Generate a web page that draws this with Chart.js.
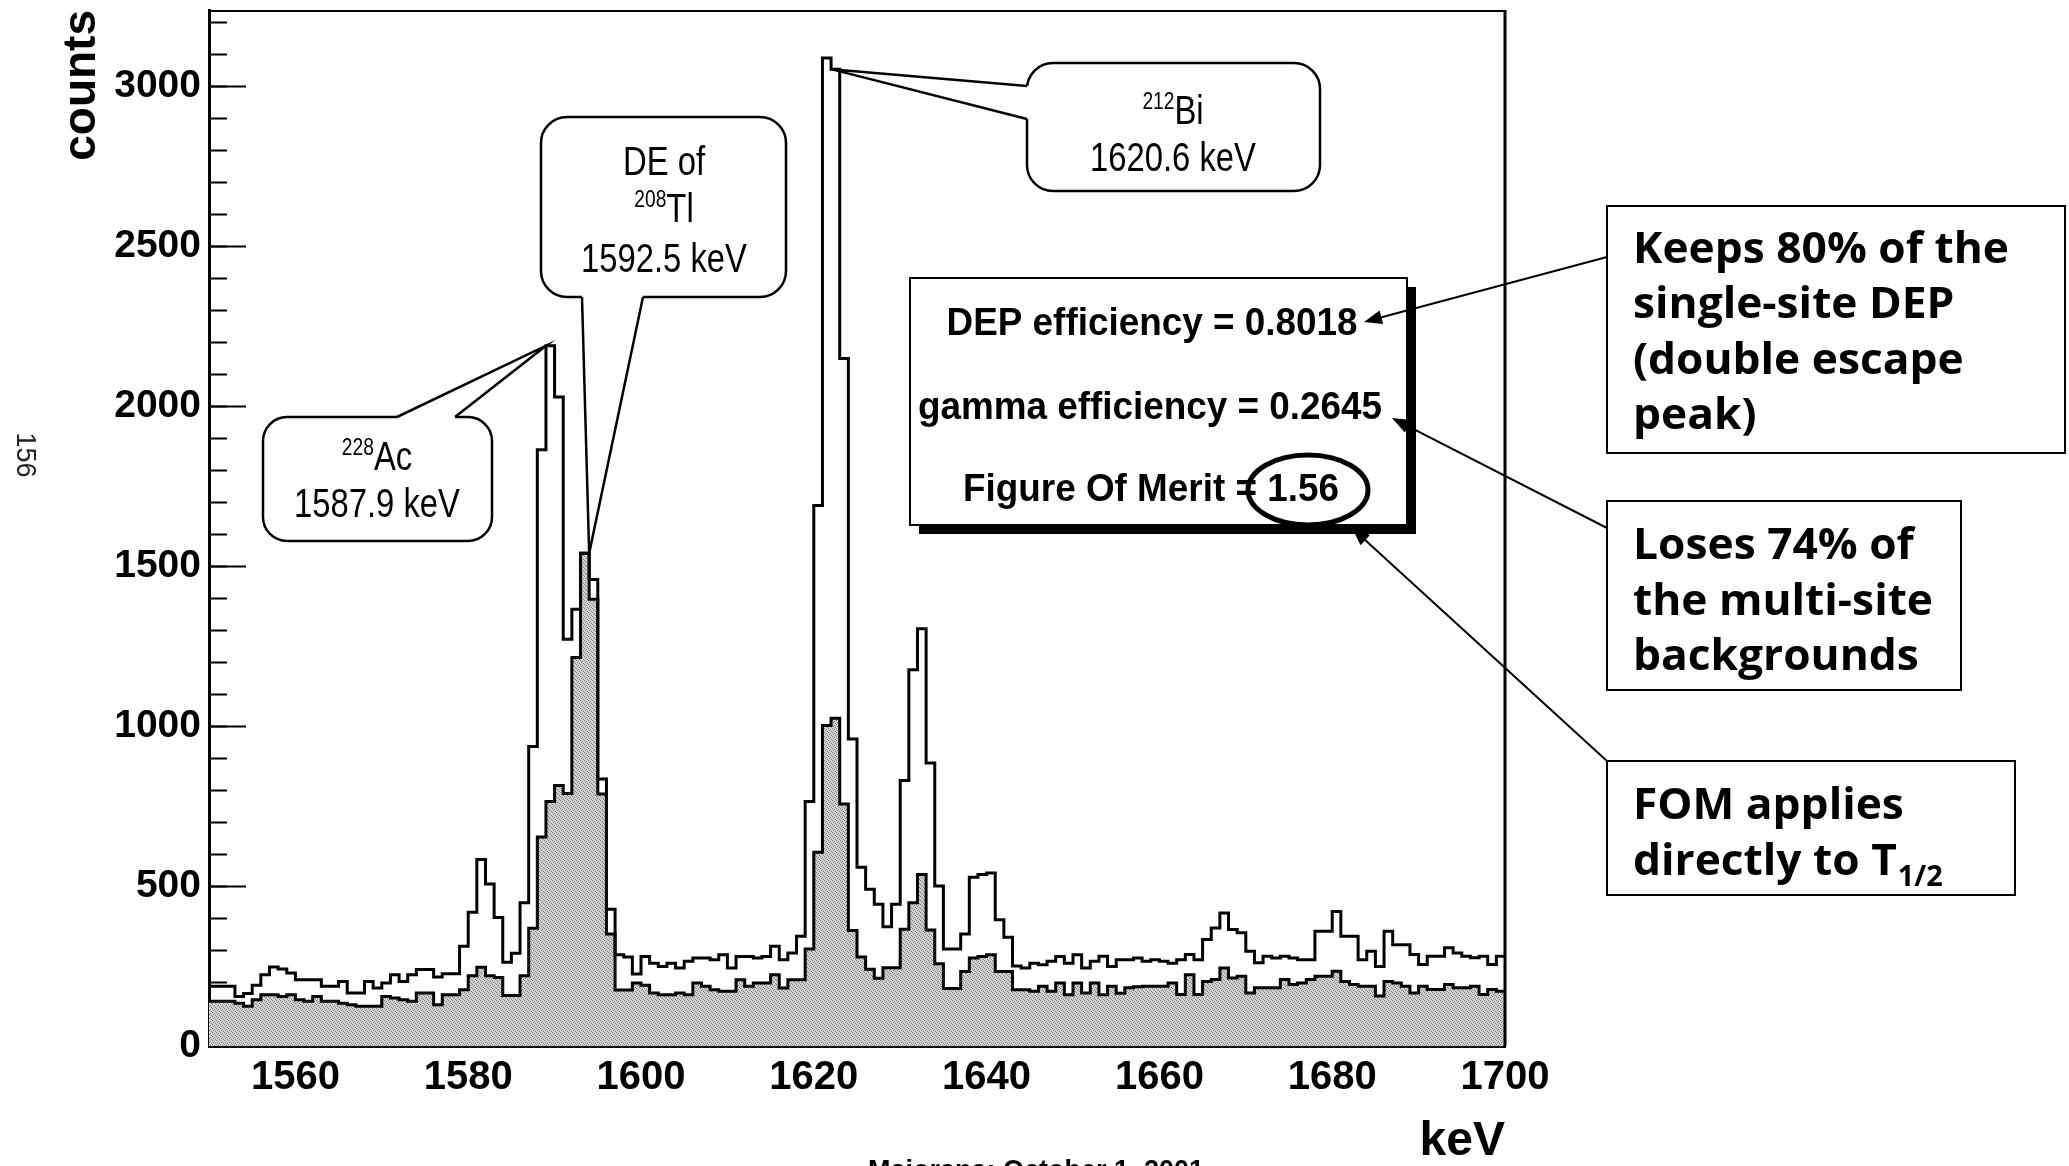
<!DOCTYPE html>
<html>
<head>
<meta charset="utf-8">
<script src="https://cdn.jsdelivr.net/npm/chart.js@4.4.1/dist/chart.umd.min.js"></script>
<style>
    html, body { margin: 0; padding: 0; background: #fff; overflow: hidden; }
    #grafico { display: block; }
</style>
</head>
<body>
<canvas id="grafico" width="2069" height="1166"></canvas>
<script>
// --- DADOS DO HISTOGRAMA (1550-1700 keV, bins de 1 keV) ---
const histMin = 1550;
const histMax = 1700;
const binWidth = 1;

// espectro completo (linha preta)
const countsTotal = [
    187, 187, 187, 155, 164, 190, 223, 247, 241, 228,
    207, 207, 207, 187, 187, 202, 166, 166, 202, 181,
    197, 223, 202, 223, 239, 239, 216, 226, 226, 312,
    418, 583, 507, 402, 262, 290, 448, 937, 1865, 2190,
    2030, 1272, 1366, 1541, 1459, 835, 428, 285, 278, 225,
    280, 259, 249, 259, 244, 265, 275, 275, 270, 285,
    244, 280, 280, 275, 280, 312, 270, 291, 343, 765,
    1690, 3090, 3055, 2150, 960, 559, 490, 443, 373, 443,
    830, 1177, 1305, 885, 500, 303, 303, 350, 528, 536,
    541, 395, 340, 250, 244, 259, 254, 265, 280, 259,
    285, 244, 265, 281, 249, 270, 270, 275, 265, 270,
    265, 259, 270, 286, 270, 333, 369, 416, 364, 354,
    296, 260, 281, 275, 281, 275, 270, 270, 359, 359,
    421, 343, 343, 270, 296, 249, 359, 317, 317, 286,
    255, 281, 281, 307, 291, 281, 276, 281, 255, 281
];

// depois do corte (área pontilhada)
const countsCut = [
    140, 140, 140, 134, 124, 145, 160, 160, 155, 160,
    145, 140, 155, 140, 140, 134, 129, 124, 124, 124,
    155, 150, 145, 140, 166, 166, 129, 160, 160, 176,
    220, 246, 220, 214, 158, 158, 220, 368, 654, 765,
    815, 790, 1215, 1541, 1397, 788, 350, 175, 175, 197,
    190, 166, 160, 160, 166, 160, 197, 187, 176, 171,
    171, 207, 187, 197, 197, 223, 181, 207, 207, 303,
    606, 1002, 1025, 757, 361, 278, 240, 212, 245, 245,
    365, 448, 536, 363, 257, 180, 180, 233, 275, 280,
    285, 233, 233, 176, 176, 171, 187, 171, 197, 160,
    197, 166, 197, 160, 187, 165, 182, 185, 187, 187,
    187, 197, 161, 223, 161, 202, 208, 244, 213, 218,
    166, 182, 182, 182, 208, 192, 197, 208, 218, 218,
    234, 202, 192, 187, 187, 156, 202, 197, 187, 166,
    187, 177, 177, 192, 182, 182, 187, 161, 177, 171
];

const xTicks = [1560, 1580, 1600, 1620, 1640, 1660, 1680, 1700];
const yTicks = [0, 500, 1000, 1500, 2000, 2500, 3000];
const yMax = 3240;

const FONT = '"Liberation Sans", Arial, Helvetica, sans-serif';
const FONT_BOX = '"Open Sans", "Liberation Sans", Arial, sans-serif';

// pontos do histograma: valor de cada bin na borda esquerda + ponto final
function toSteps(counts) {
    const pts = counts.map((c, i) => ({ x: histMin + i * binWidth, y: c }));
    pts.push({ x: histMin + counts.length * binWidth, y: counts[counts.length - 1] });
    return pts;
}

const canvas = document.getElementById('grafico');
const ctx = canvas.getContext('2d');

// padrão pontilhado da área cinza
function stipple() {
    const c = document.createElement('canvas');
    c.width = 4; c.height = 4;
    const g = c.getContext('2d');
    g.fillStyle = '#d3d3d3';
    g.fillRect(0, 0, 4, 4);
    g.fillStyle = '#7a7a7a';
    [[0, 0], [2, 1], [1, 2], [3, 3]].forEach(([a, b]) => g.fillRect(a, b, 1, 1));
    return ctx.createPattern(c, 'repeat');
}

// texto com escala horizontal
function narrowText(g, txt, x, y, sx) {
    g.save();
    g.translate(x, y);
    g.scale(sx, 1);
    g.fillText(txt, 0, 0);
    g.restore();
}

// texto com índice superior, centralizado
function isotopeText(g, sup, main, cx, base, size, sx) {
    const supFont = `${Math.round(size * 0.58)}px ${FONT}`;
    const mainFont = `${size}px ${FONT}`;
    g.font = supFont;
    const w1 = g.measureText(sup).width * sx;
    g.font = mainFont;
    const w2 = g.measureText(main).width * sx;
    const x0 = cx - (w1 + w2) / 2;
    g.textAlign = 'left';
    g.font = supFont;
    narrowText(g, sup, x0, base - size * 0.36, sx);
    g.font = mainFont;
    narrowText(g, main, x0 + w1, base, sx);
}

function callout(g, box, b1, b2, inward, tip) {
    g.save();
    g.lineWidth = 2.5;
    g.strokeStyle = '#000';
    g.fillStyle = '#fff';
    g.beginPath();
    g.roundRect(box.x, box.y, box.w, box.h, box.r);
    g.fill();
    g.stroke();
    // abre a borda onde entra a ponta
    g.beginPath();
    g.moveTo(b1[0] + inward[0], b1[1] + inward[1]);
    g.lineTo(b1[0], b1[1]);
    g.lineTo(tip[0], tip[1]);
    g.lineTo(b2[0], b2[1]);
    g.lineTo(b2[0] + inward[0], b2[1] + inward[1]);
    g.closePath();
    g.fill();
    g.beginPath();
    g.moveTo(b1[0], b1[1]);
    g.lineTo(tip[0], tip[1]);
    g.lineTo(b2[0], b2[1]);
    g.stroke();
    g.restore();
}

function arrow(g, from, to) {
    const ang = Math.atan2(to[1] - from[1], to[0] - from[0]);
    const len = 18, half = 7;
    g.save();
    g.strokeStyle = '#000';
    g.fillStyle = '#000';
    g.lineWidth = 2;
    g.beginPath();
    g.moveTo(from[0], from[1]);
    g.lineTo(to[0] - Math.cos(ang) * len * 0.8, to[1] - Math.sin(ang) * len * 0.8);
    g.stroke();
    g.beginPath();
    g.moveTo(to[0], to[1]);
    g.lineTo(to[0] - Math.cos(ang) * len + Math.sin(ang) * half, to[1] - Math.sin(ang) * len - Math.cos(ang) * half);
    g.lineTo(to[0] - Math.cos(ang) * len - Math.sin(ang) * half, to[1] - Math.sin(ang) * len + Math.cos(ang) * half);
    g.closePath();
    g.fill();
    g.restore();
}

// --- ANOTAÇÕES (caixas, setas, textos) ---
const annotations = {
    id: 'annotations',
    afterDraw(chart) {
        const { ctx: g, chartArea: a, scales: { x, y } } = chart;
        const topOf = (e, edge) => [x.getPixelForValue(edge), y.getPixelForValue(countsTotal[e - histMin])];

        g.save();
        // moldura (topo e direita)
        g.strokeStyle = '#000';
        g.lineWidth = 2;
        g.beginPath();
        g.moveTo(a.left, a.top + 1);
        g.lineTo(a.right, a.top + 1);
        g.stroke();
        g.lineWidth = 3;
        g.beginPath();
        g.moveTo(a.right, a.top);
        g.lineTo(a.right, a.bottom);
        g.stroke();

        // balões dos picos
        callout(g, { x: 263, y: 417, w: 229, h: 124, r: 24 }, [397, 417], [455, 417], [0, 4], topOf(1589, 1589));
        callout(g, { x: 541, y: 117, w: 245, h: 180, r: 26 }, [582, 297], [643, 297], [0, -4], topOf(1593, 1594));
        callout(g, { x: 1027, y: 63, w: 293, h: 128, r: 26 }, [1027, 86], [1027, 119], [4, 0], topOf(1622, 1622));

        g.fillStyle = '#000';
        g.textBaseline = 'alphabetic';
        isotopeText(g, '228', 'Ac', 377, 470, 41, 0.8);
        g.font = `41px ${FONT}`;
        g.textAlign = 'center';
        narrowText(g, '1587.9 keV', 377, 517, 0.8);

        g.font = `41px ${FONT}`;
        g.textAlign = 'center';
        narrowText(g, 'DE of', 664, 175, 0.8);
        isotopeText(g, '208', 'Tl', 664, 222, 41, 0.8);
        g.font = `41px ${FONT}`;
        g.textAlign = 'center';
        narrowText(g, '1592.5 keV', 664, 272, 0.8);

        isotopeText(g, '212', 'Bi', 1173, 124, 41, 0.8);
        g.font = `41px ${FONT}`;
        g.textAlign = 'center';
        narrowText(g, '1620.6 keV', 1173, 171, 0.8);

        // caixa de eficiências com sombra
        g.fillStyle = '#000';
        g.fillRect(919, 525, 497, 9);
        g.fillRect(1407, 287, 9, 247);
        g.fillStyle = '#fff';
        g.fillRect(910, 278, 497, 247);
        g.strokeStyle = '#000';
        g.lineWidth = 2;
        g.strokeRect(910, 278, 497, 247);
        g.fillStyle = '#000';
        g.font = `bold 38px ${FONT}`;
        g.textAlign = 'center';
        narrowText(g, 'DEP efficiency = 0.8018', 1152, 335, 0.97);
        narrowText(g, 'gamma efficiency = 0.2645', 1150, 419, 0.97);
        narrowText(g, 'Figure Of Merit = 1.56', 1151, 501, 0.97);
        g.lineWidth = 5;
        g.beginPath();
        g.ellipse(1308, 490, 60, 35, 0, 0, Math.PI * 2);
        g.stroke();

        // setas
        arrow(g, [1607, 257], [1364, 322]);
        arrow(g, [1607, 528], [1392, 418]);
        arrow(g, [1607, 761], [1352, 528]);

        // caixas de comentário
        g.lineWidth = 2;
        g.strokeRect(1607, 206, 458, 247);
        g.strokeRect(1607, 501, 354, 189);
        g.strokeRect(1607, 761, 408, 134);
        g.font = `bold 43px ${FONT_BOX}`;
        g.textAlign = 'left';
        const sx = 1.03;
        narrowText(g, 'Keeps 80% of the', 1633, 263, sx);
        narrowText(g, 'single-site DEP', 1633, 318, sx);
        narrowText(g, '(double escape', 1633, 374, sx);
        narrowText(g, 'peak)', 1633, 429, sx);
        narrowText(g, 'Loses 74% of', 1633, 559, sx);
        narrowText(g, 'the multi-site', 1633, 615, sx);
        narrowText(g, 'backgrounds', 1633, 670, sx);
        narrowText(g, 'FOM applies', 1633, 819, sx);
        const dTxt = 'directly to T';
        narrowText(g, dTxt, 1633, 875, sx);
        const wd = g.measureText(dTxt).width * sx;
        g.font = `bold 28px ${FONT_BOX}`;
        narrowText(g, '1/2', 1633 + wd + 1, 886, sx);

        // número da página e rodapé
        g.save();
        g.translate(24, 455);
        g.rotate(Math.PI / 2);
        g.font = `27px ${FONT}`;
        g.textAlign = 'center';
        g.textBaseline = 'middle';
        g.fillStyle = '#222';
        g.fillText('156', 0, 0);
        g.restore();

        g.font = `bold 27px ${FONT}`;
        g.textAlign = 'left';
        g.fillText('Majorana: October 1, 2001', 868, 1179);
        g.restore();
    }
};

// tira o espaço extra que a escala reserva para os rótulos
function noScalePadding(s) {
    s.paddingTop = 0;
    s.paddingBottom = 0;
    s.paddingLeft = 0;
    s.paddingRight = 0;
}

// --- GRÁFICO ---
new Chart(ctx, {
    type: 'line',
    data: {
        datasets: [{
            label: 'all events',
            data: toSteps(countsTotal),
            stepped: 'before',
            borderColor: '#000',
            borderWidth: 3,
            pointRadius: 0,
            fill: false,
            yAxisID: 'y'
        }, {
            label: 'after cut',
            data: toSteps(countsCut),
            stepped: 'before',
            borderColor: '#000',
            borderWidth: 3,
            pointRadius: 0,
            backgroundColor: stipple(),
            fill: 'origin',
            yAxisID: 'y'
        }]
    },
    options: {
        responsive: false,
        animation: false,
        layout: { padding: { left: 0, top: 10, right: 564, bottom: 0 } },
        plugins: {
            legend: { display: false },
            tooltip: { enabled: false }
        },
        scales: {
            x: {
                type: 'linear',
                min: histMin,
                max: histMax,
                afterBuildTicks: s => { s.ticks = xTicks.map(v => ({ value: v })); },
                afterFit: s => { s.height = 120; noScalePadding(s); },
                grid: { display: false, drawTicks: false },
                border: { display: true, color: '#000', width: 3 },
                ticks: {
                    autoSkip: false,
                    maxRotation: 0,
                    padding: 8,
                    color: '#000',
                    font: { family: FONT, size: 40, weight: 'bold' },
                    callback: v => String(v)
                },
                title: {
                    display: true,
                    text: 'keV',
                    align: 'end',
                    color: '#000',
                    padding: { top: 0, bottom: 0 },
                    font: { family: FONT, size: 48, weight: 'bold', lineHeight: 1.0 }
                }
            },
            y: {
                position: 'left',
                weight: 1,
                min: 0,
                max: yMax,
                afterBuildTicks: s => { s.ticks = yTicks.map(v => ({ value: v })); },
                afterFit: s => { s.width = 209; noScalePadding(s); },
                grid: {
                    display: true,
                    drawOnChartArea: false,
                    drawTicks: true,
                    tickLength: -37,
                    tickColor: '#000',
                    tickWidth: 2
                },
                border: { display: true, color: '#000', width: 3 },
                ticks: {
                    padding: 45,
                    color: '#000',
                    font: { family: FONT, size: 39, weight: 'bold' },
                    callback: v => String(v)
                },
                title: {
                    display: true,
                    text: 'counts',
                    align: 'end',
                    color: '#000',
                    padding: { top: 55, bottom: 0 },
                    font: { family: FONT, size: 46, weight: 'bold' }
                }
            },
            yMinor: {
                position: 'left',
                weight: 0,
                min: 0,
                max: yMax,
                afterFit: s => { s.width = 0; noScalePadding(s); },
                grid: {
                    display: true,
                    drawOnChartArea: false,
                    drawTicks: true,
                    tickLength: -18,
                    tickColor: '#000',
                    tickWidth: 2
                },
                border: { display: false },
                ticks: { display: false, stepSize: 100, includeBounds: false }
            }
        }
    },
    plugins: [annotations]
});
</script>
</body>
</html>
